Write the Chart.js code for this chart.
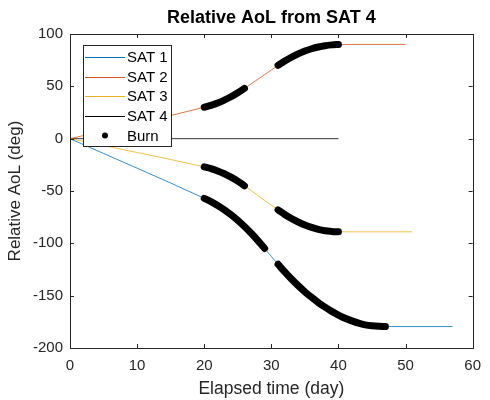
<!DOCTYPE html>
<html>
<head>
<meta charset="utf-8">
<script src="https://cdn.jsdelivr.net/npm/chart.js@4.4.1/dist/chart.umd.min.js"></script>
<style>
  body { margin: 0; background: #fff; }
  canvas { display: block; }
</style>
</head>
<body>
<canvas id="myChart" width="490" height="400"></canvas>
<script>
// values (day, relative AoL in deg)
var sat1Days = [0, 20, 21, 22, 23, 24, 25, 26, 27, 28, 29, 30, 31, 32, 33, 34, 35, 36, 37, 38, 39, 40, 41, 42, 43, 44, 45, 46, 47, 57];
var sat1Aol = [0, -57, -60.1, -63.8, -68, -72.8, -78.1, -84, -90.4, -97.4, -104.9, -112.5, -120, -127.3, -134.1, -140.4, -146.3, -151.6, -156.6, -161, -165, -168.5, -171.6, -174.1, -176.3, -177.9, -178.8, -179.3, -179.5, -179.5];

var sat2Days = [0, 20, 21, 22, 23, 24, 25, 26, 27, 28, 29, 30, 31, 32, 33, 34, 35, 36, 37, 38, 39, 40, 50];
var sat2Aol = [0, 30, 31.8, 34, 36.8, 40, 43.8, 48, 52.4, 56.8, 61.2, 65.6, 70, 74.2, 77.8, 81, 83.7, 85.9, 87.6, 88.8, 89.6, 90, 90];

var sat3Days = [0, 20, 21, 22, 23, 24, 25, 26, 27, 28, 29, 30, 31, 32, 33, 34, 35, 36, 37, 38, 39, 40, 51];
var sat3Aol = [0, -27, -28.6, -30.8, -33.5, -36.8, -40.6, -45, -49.7, -54.3, -59, -63.6, -68, -72.4, -76.3, -79.6, -82.5, -84.8, -86.6, -87.9, -88.6, -89, -89];

var sat4Days = [0, 40];
var sat4Aol = [0, 0];

// burn windows [start day, end day]
var sat1Burns = [[20, 29], [31, 47]];
var sat2Burns = [[20, 26], [31, 40]];
var sat3Burns = [[20, 26], [31, 40]];

var yTicks = [-200, -150, -100, -50, 0, 50, 100];
var xTicks = [0, 10, 20, 30, 40, 50, 60];

var FONT = '"Liberation Sans", Arial, sans-serif';
var INK = '#262626';

function toPoints(days, vals) {
    return days.map(function(d, i) { return {x: d, y: vals[i]}; });
}

function burnPoints() {
    var out = [];
    [[sat1Days, sat1Aol, sat1Burns], [sat2Days, sat2Aol, sat2Burns], [sat3Days, sat3Aol, sat3Burns]].forEach(function(s) {
        s[2].forEach(function(w) {
            s[0].forEach(function(d, i) {
                if (d >= w[0] && d <= w[1]) out.push({x: d, y: s[1][i]});
            });
            out.push({x: w[1], y: null});
        });
    });
    return out;
}

// matlab style frame, inward ticks, title and boxed legend
var matlabFrame = {
    id: 'matlabFrame',
    afterDraw: function(chart) {
        var ctx = chart.ctx;
        var a = chart.chartArea;
        var xs = chart.scales.x, ys = chart.scales.y;
        ctx.save();
        ctx.strokeStyle = INK;
        ctx.lineWidth = 1;
        ctx.strokeRect(Math.round(a.left) + 0.5, Math.round(a.top) + 0.5, Math.round(a.right - a.left), Math.round(a.bottom - a.top));
        ctx.beginPath();
        xTicks.forEach(function(t) {
            var px = Math.round(xs.getPixelForValue(t)) + 0.5;
            ctx.moveTo(px, a.bottom); ctx.lineTo(px, a.bottom - 4);
            ctx.moveTo(px, a.top); ctx.lineTo(px, a.top + 4);
        });
        yTicks.forEach(function(t) {
            var py = Math.round(ys.getPixelForValue(t)) + 0.5;
            ctx.moveTo(a.left, py); ctx.lineTo(a.left + 4, py);
            ctx.moveTo(a.right, py); ctx.lineTo(a.right - 4, py);
        });
        ctx.stroke();

        // title
        ctx.fillStyle = '#000';
        ctx.font = 'bold 18px ' + FONT;
        ctx.textAlign = 'center';
        ctx.textBaseline = 'middle';
        ctx.fillText('Relative AoL from SAT 4', (a.left + a.right) / 2, 18);

        // legend
        var bx = 83, by = 45, bw = 88, bh = 101;
        ctx.fillStyle = '#fff';
        ctx.fillRect(bx, by, bw, bh);
        ctx.strokeStyle = INK;
        ctx.strokeRect(bx + 0.5, by + 0.5, bw, bh);
        ctx.font = '15px ' + FONT;
        ctx.textAlign = 'left';
        chart.data.datasets.forEach(function(ds, i) {
            var y = by + 12 + i * 19.6;
            if (ds.label === 'Burn') {
                ctx.fillStyle = '#000';
                ctx.beginPath();
                ctx.arc(105, y, 3, 0, Math.PI * 2);
                ctx.fill();
            } else {
                ctx.strokeStyle = ds.borderColor;
                ctx.lineWidth = 1;
                ctx.beginPath();
                ctx.moveTo(85, Math.round(y) + 0.5);
                ctx.lineTo(125, Math.round(y) + 0.5);
                ctx.stroke();
            }
            ctx.fillStyle = '#000';
            ctx.fillText(ds.label, 127, y + 1);
        });
        ctx.restore();
    }
};

var ctx = document.getElementById('myChart');
var myChart = new Chart(ctx, {
    type: 'line',
    data: {
        datasets: [{
            label: 'SAT 1',
            data: toPoints(sat1Days, sat1Aol),
            borderColor: '#0072BD',
            borderWidth: 0.8,
            order: 1
        }, {
            label: 'SAT 2',
            data: toPoints(sat2Days, sat2Aol),
            borderColor: '#D95319',
            borderWidth: 0.8,
            order: 1
        }, {
            label: 'SAT 3',
            data: toPoints(sat3Days, sat3Aol),
            borderColor: '#EDB120',
            borderWidth: 0.8,
            order: 1
        }, {
            label: 'SAT 4',
            data: toPoints(sat4Days, sat4Aol),
            borderColor: '#000000',
            borderWidth: 0.8,
            order: 1
        }, {
            label: 'Burn',
            data: burnPoints(),
            borderColor: '#000000',
            borderWidth: 7,
            borderCapStyle: 'round',
            borderJoinStyle: 'round',
            spanGaps: false,
            order: 0
        }]
    },
    options: {
        responsive: false,
        animation: false,
        events: [],
        layout: { padding: { top: 34, right: 10, left: 0, bottom: 0 } },
        elements: {
            point: { radius: 0 },
            line: { cubicInterpolationMode: 'monotone' }
        },
        plugins: {
            legend: { display: false },
            title: { display: false },
            tooltip: { enabled: false }
        },
        scales: {
            x: {
                type: 'linear',
                min: 0,
                max: 60,
                afterFit: function(scale) { scale.height = 52; },
                afterBuildTicks: function(scale) { scale.ticks = xTicks.map(function(v) { return {value: v}; }); },
                grid: { display: false, drawTicks: false },
                border: { display: false },
                ticks: { color: INK, font: { family: FONT, size: 15 }, padding: 9, maxRotation: 0 },
                title: { display: true, text: 'Elapsed time (day)', color: INK, font: { family: FONT, size: 17.5 }, padding: { top: 0, bottom: 0 } }
            },
            y: {
                min: -200,
                max: 100,
                afterFit: function(scale) { scale.width = 70; },
                afterBuildTicks: function(scale) { scale.ticks = yTicks.map(function(v) { return {value: v}; }); },
                grid: { display: false, drawTicks: false },
                border: { display: false },
                ticks: { color: INK, font: { family: FONT, size: 15 }, padding: 7 },
                title: { display: true, text: 'Relative AoL (deg)', color: INK, font: { family: FONT, size: 17 }, padding: { top: 5, bottom: 0 } }
            }
        }
    },
    plugins: [matlabFrame]
});
</script>
</body>
</html>
